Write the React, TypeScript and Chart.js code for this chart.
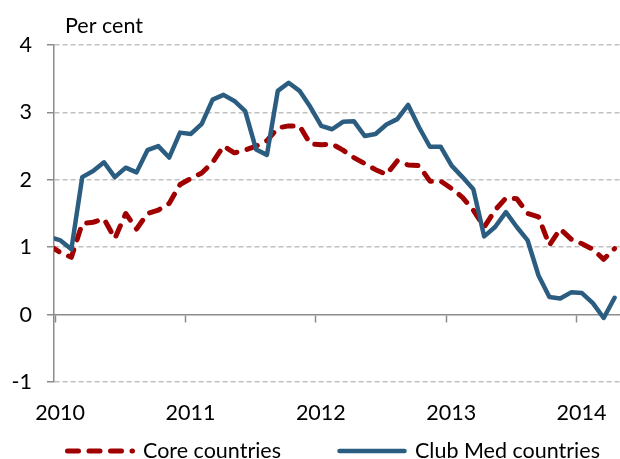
import React, { useEffect, useRef } from 'react';
import { Chart, registerables } from 'chart.js';

Chart.register(...registerables);

// ---- data (monthly, first value = Dec 2009, last = Apr 2014) ----
const firstMonthOffset = -1; // Dec 2009 relative to Jan 2010
const yearLabels = ['2010', '2011', '2012', '2013', '2014'];
const yearTickMonths = [0, 12, 24, 36, 48];
const yTickValues = [-1, 0, 1, 2, 3, 4];
const seriesNames = ['Core countries', 'Club Med countries'];
const unitLabel = 'Per cent';

const coreCountries = [
  1.02, 0.92, 0.85, 1.35, 1.37, 1.42, 1.13, 1.5, 1.27, 1.5, 1.55, 1.65, 1.93,
  2.02, 2.1, 2.26, 2.5, 2.4, 2.44, 2.5, 2.58, 2.77, 2.8, 2.8, 2.53, 2.52, 2.53,
  2.44, 2.33, 2.24, 2.15, 2.08, 2.28, 2.22, 2.21, 1.98, 1.98, 1.87, 1.74, 1.55,
  1.3, 1.55, 1.73, 1.72, 1.5, 1.45, 1.03, 1.27, 1.12, 1.05, 0.97, 0.82, 0.98,
];

const clubMedCountries = [
  1.15, 1.1, 0.97, 2.04, 2.13, 2.26, 2.04, 2.18, 2.11, 2.44, 2.5, 2.33, 2.7,
  2.68, 2.83, 3.19, 3.26, 3.17, 3.02, 2.45, 2.37, 3.32, 3.44, 3.32, 3.08, 2.8,
  2.75, 2.86, 2.87, 2.65, 2.68, 2.82, 2.9, 3.11, 2.78, 2.49, 2.49, 2.21, 2.04,
  1.86, 1.16, 1.3, 1.52, 1.3, 1.1, 0.58, 0.26, 0.24, 0.33, 0.32, 0.17, -0.05,
  0.25,
];

// ---- styling ----
const FONT = 'Lato, "Open Sans", "DejaVu Sans", sans-serif';
const FONT_SIZE = 21.5;
const BLUE = '#2B5D80';
const RED = '#A00000';
const AXIS = '#8C8C8C';
const GRID = '#C0C0C0';
const X_MIN = -0.1;
const X_MAX = 52;

// mid-month positions (months since Jan 2010)
const toPoints = (vals: number[]) =>
  vals.map((v, i) => ({ x: firstMonthOffset + i + 0.5, y: v }));

const extrasPlugin = {
  id: 'extras',
  afterDraw(chart: any) {
    const ctx = chart.ctx;
    ctx.save();
    ctx.fillStyle = '#000';
    ctx.font = `${FONT_SIZE}px ${FONT}`;
    ctx.textBaseline = 'alphabetic';
    ctx.textAlign = 'left';
    ctx.fillText(unitLabel, 65, 33);
    // legend
    const legendX = [65, 337];
    const sampleW = 70;
    const lineY = 451;
    chart.data.datasets.forEach((ds: any, i: number) => {
      const x0 = legendX[i];
      ctx.save();
      ctx.strokeStyle = ds.borderColor;
      ctx.lineWidth = ds.borderWidth;
      ctx.lineCap = 'round';
      ctx.setLineDash(ds.borderDash || []);
      ctx.beginPath();
      ctx.moveTo(x0 + 2.5, lineY);
      ctx.lineTo(x0 + sampleW - 2.5, lineY);
      ctx.stroke();
      ctx.restore();
      ctx.fillText(ds.label, x0 + sampleW + 8, 458);
    });
    ctx.restore();
  },
};

export default function App() {
  const ref = useRef<HTMLCanvasElement>(null);

  useEffect(() => {
    document.body.style.margin = '0';
    const canvas = ref.current;
    if (!canvas) return;
    const yearTicks = () => yearTickMonths.map((v) => ({ value: v }));
    const chart = new Chart(canvas, {
      type: 'line',
      data: {
        datasets: [
          {
            label: seriesNames[0],
            data: toPoints(coreCountries),
            borderColor: RED,
            backgroundColor: RED,
            borderWidth: 5,
            borderDash: [11, 10.5],
            borderCapStyle: 'round',
            borderJoinStyle: 'round',
            pointRadius: 0,
            tension: 0,
            clip: 0,
            order: 1,
            xAxisID: 'x',
            yAxisID: 'y',
          },
          {
            label: seriesNames[1],
            data: toPoints(clubMedCountries),
            borderColor: BLUE,
            backgroundColor: BLUE,
            borderWidth: 4.5,
            borderCapStyle: 'round',
            borderJoinStyle: 'round',
            pointRadius: 0,
            tension: 0,
            clip: 0,
            order: 0,
            xAxisID: 'x',
            yAxisID: 'y',
          },
        ],
      },
      options: {
        animation: false,
        responsive: false,
        maintainAspectRatio: false,
        layout: { padding: { top: 45, left: 0, right: 0, bottom: 0 } },
        plugins: { legend: { display: false }, tooltip: { enabled: false } },
        scales: {
          x: {
            type: 'linear',
            position: 'bottom',
            min: X_MIN,
            max: X_MAX,
            afterFit: (s: any) => {
              s.height = 77;
            },
            afterBuildTicks: (s: any) => {
              s.ticks = yearTicks();
            },
            grid: { display: false, drawTicks: false },
            border: { display: false },
            ticks: {
              padding: 18,
              labelOffset: 5,
              color: '#000',
              font: { family: FONT, size: FONT_SIZE },
              autoSkip: false,
              maxRotation: 0,
              callback: (v: any) => {
                const i = yearTickMonths.indexOf(Number(v));
                return i >= 0 ? yearLabels[i] : '';
              },
            },
          },
          xZero: {
            type: 'linear',
            position: { y: 0 },
            min: X_MIN,
            max: X_MAX,
            afterFit: (s: any) => {
              s.height = 0;
            },
            afterBuildTicks: (s: any) => {
              s.ticks = yearTicks();
            },
            grid: {
              display: true,
              drawOnChartArea: false,
              drawTicks: true,
              tickLength: 7,
              tickColor: AXIS,
              tickWidth: 1.5,
            },
            border: { display: true, color: AXIS, width: 1.5 },
            ticks: { display: false },
          },
          y: {
            type: 'linear',
            min: -1,
            max: 4,
            afterFit: (s: any) => {
              s.width = 54;
            },
            afterBuildTicks: (s: any) => {
              s.ticks = yTickValues.map((v) => ({ value: v }));
            },
            grid: {
              color: (c: any) => (c.tick && c.tick.value === 0 ? 'rgba(0,0,0,0)' : GRID),
              lineWidth: 1.5,
              drawTicks: true,
              tickLength: 7,
              tickColor: AXIS,
              tickWidth: 1.5,
            },
            border: { display: true, color: AXIS, width: 1.5, dash: [5, 3] },
            ticks: {
              padding: 15,
              color: '#000',
              font: { family: FONT, size: FONT_SIZE },
              callback: (v: any) => String(v),
            },
          },
        },
      },
      plugins: [extrasPlugin],
    } as any);
    return () => chart.destroy();
  }, []);

  return <canvas ref={ref} width={620} height={459} style={{ display: 'block' }} />;
}
